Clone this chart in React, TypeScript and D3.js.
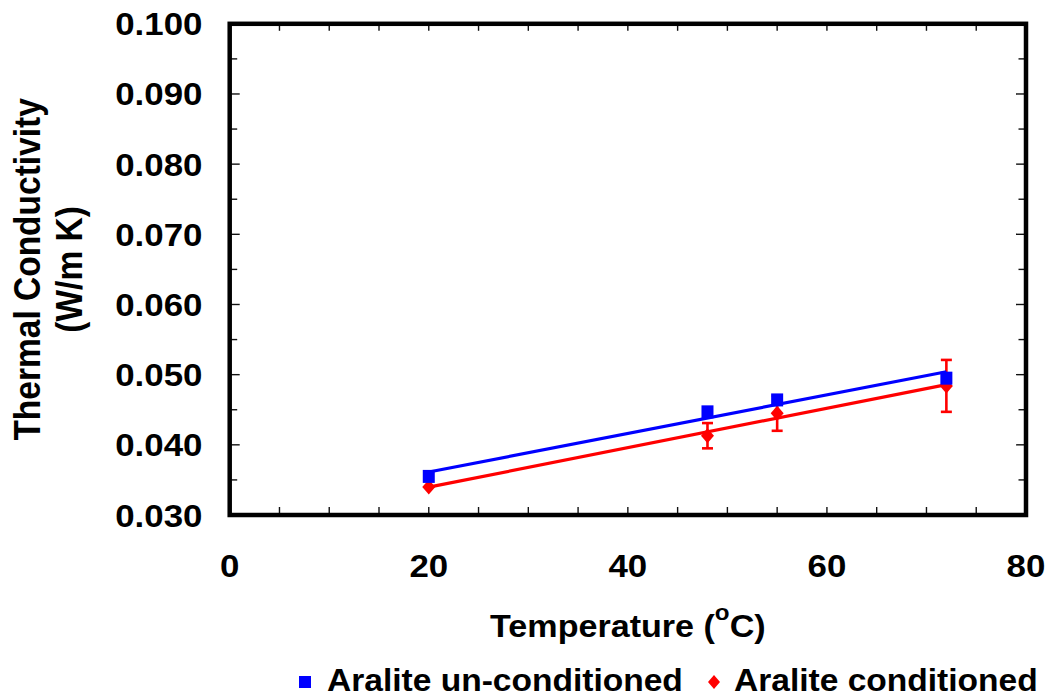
import React from "react";
import * as d3 from "d3";

const temps = [20, 48, 55, 72];
const unconditioned = [0.0355, 0.0447, 0.0464, 0.0495];
const conditioned = [0.034, 0.0413, 0.0445, 0.0484];
const conditionedErr = [0, 0.0018, 0.0025, 0.0037];
const xTickLabels = [0, 20, 40, 60, 80];
const yTickLabels = [0.03, 0.04, 0.05, 0.06, 0.07, 0.08, 0.09, 0.1];
const seriesNames = ["Aralite un-conditioned", "Aralite conditioned"];
const xTitle = "Temperature (";
const yTitle1 = "Thermal Conductivity";
const yTitle2 = "(W/m K)";

const BLUE = "#0000ff";
const RED = "#ff0000";
const FONT = "'Liberation Sans', Arial, Helvetica, sans-serif";

function fit(xs: number[], ys: number[]) {
  const mx = d3.mean(xs)!;
  const my = d3.mean(ys)!;
  let sxy = 0, sxx = 0;
  xs.forEach((x, i) => {
    sxy += (x - mx) * (ys[i] - my);
    sxx += (x - mx) * (x - mx);
  });
  const b = sxy / sxx;
  const a = my - b * mx;
  const [x0, x1] = d3.extent(xs) as [number, number];
  return [[x0, a + b * x0], [x1, a + b * x1]] as [number, number][];
}

const ST = ({ x, y, size, anchor, sx = 1.1, children, rotate = 0 }: any) => (
  <text
    transform={`translate(${x},${y}) scale(${sx},1)${rotate ? ` rotate(${rotate})` : ""}`}
    fontSize={size}
    fontWeight="bold"
    fontFamily={FONT}
    textAnchor={anchor}
    fill="#000"
  >
    {children}
  </text>
);

export default function App() {
  const x = d3.scaleLinear().domain([0, 80]).range([229.7, 1026]);
  const y = d3.scaleLinear().domain([0.03, 0.1]).range([515, 23.8]);
  const line = d3
    .line<[number, number]>()
    .x((d) => x(d[0]))
    .y((d) => y(d[1]));
  const blueFit = fit(temps, unconditioned);
  const redFit = fit(temps, conditioned);
  const xMinor = d3.range(5, 80, 5);
  const yMinor = d3.range(0.035, 0.1, 0.005);
  const yMajor = d3.range(0.04, 0.1, 0.01);
  const diamond = (cx: number, cy: number, w = 6.5, h = 7.5) =>
    `M${cx},${cy - h}L${cx + w},${cy}L${cx},${cy + h}L${cx - w},${cy}Z`;
  const fmt = d3.format(".3f");

  return (
    <svg
      width={1050}
      height={698}
      style={{ position: "absolute", left: 0, top: 0, background: "#fff" }}
    >
      <rect width={1050} height={698} fill="#fff" />
      {/* ticks */}
      <g stroke="#111" strokeWidth={1.4}>
        {xMinor.map((t) => (
          <g key={"xt" + t}>
            <line x1={x(t)} x2={x(t)} y1={y(0.03)} y2={y(0.03) - 8} />
            <line x1={x(t)} x2={x(t)} y1={y(0.1)} y2={y(0.1) + 7} />
          </g>
        ))}
        {yMinor.map((t) => {
          const major = yMajor.some((m) => Math.abs(m - t) < 1e-6);
          const len = major ? 10 : 7.5;
          return (
            <g key={"yt" + t}>
              <line x1={x(0)} x2={x(0) + len} y1={y(t)} y2={y(t)} />
              <line x1={x(80)} x2={x(80) - len} y1={y(t)} y2={y(t)} />
            </g>
          );
        })}
      </g>
      {/* frame */}
      <rect
        x={x(0)}
        y={y(0.1)}
        width={x(80) - x(0)}
        height={y(0.03) - y(0.1)}
        fill="none"
        stroke="#000"
        strokeWidth={4.5}
      />
      {/* tick labels */}
      {yTickLabels.map((t) => (
        <ST key={"yl" + t} x={202.5} y={y(t) + 11.5} size={32} anchor="end" sx={1.09}>
          {fmt(t)}
        </ST>
      ))}
      {xTickLabels.map((t) => (
        <ST key={"xl" + t} x={x(t)} y={577} size={32} anchor="middle" sx={1.09}>
          {t}
        </ST>
      ))}
      {/* axis titles */}
      <ST x={(x(0) + x(80)) / 2} y={637} size={31} anchor="middle">
        {xTitle}
        <tspan fontSize={22} dy={-17}>o</tspan>
        <tspan dy={17}>C)</tspan>
      </ST>
      <ST x={39.5} y={(y(0.03) + y(0.1)) / 2} size={33.5} anchor="middle" sx={1.08} rotate={-90}>
        {yTitle1}
      </ST>
      <ST x={82} y={(y(0.03) + y(0.1)) / 2} size={33.5} anchor="middle" sx={1.08} rotate={-90}>
        {yTitle2}
      </ST>
      {/* red series */}
      <path d={line(redFit)!} fill="none" stroke={RED} strokeWidth={3.2} />
      <g stroke={RED} strokeWidth={2.6}>
        {temps.map((t, i) =>
          conditionedErr[i] > 0 ? (
            <g key={"e" + i}>
              <line x1={x(t)} x2={x(t)} y1={y(conditioned[i] - conditionedErr[i])} y2={y(conditioned[i] + conditionedErr[i])} />
              <line x1={x(t) - 5.5} x2={x(t) + 5.5} y1={y(conditioned[i] - conditionedErr[i])} y2={y(conditioned[i] - conditionedErr[i])} />
              <line x1={x(t) - 5.5} x2={x(t) + 5.5} y1={y(conditioned[i] + conditionedErr[i])} y2={y(conditioned[i] + conditionedErr[i])} />
            </g>
          ) : null
        )}
      </g>
      {temps.map((t, i) => (
        <path key={"d" + i} d={diamond(x(t), y(conditioned[i]))} fill={RED} />
      ))}
      {/* blue series */}
      <path d={line(blueFit)!} fill="none" stroke={BLUE} strokeWidth={3.2} />
      {temps.map((t, i) => (
        <rect key={"s" + i} x={x(t) - 6} y={y(unconditioned[i]) - 6.5} width={12} height={13} fill={BLUE} />
      ))}
      {/* legend */}
      <rect x={299} y={676} width={12} height={12} fill={BLUE} />
      <ST x={327} y={691} size={30.5} anchor="start">{seriesNames[0]}</ST>
      <path d={diamond(714, 682, 6, 7)} fill={RED} />
      <ST x={734} y={691} size={30.5} anchor="start">{seriesNames[1]}</ST>
    </svg>
  );
}
